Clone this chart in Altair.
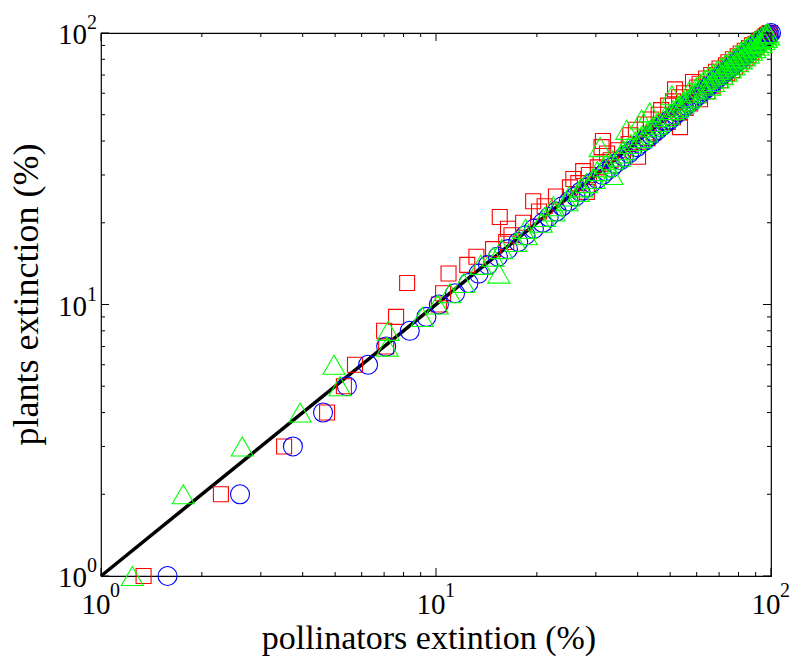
import altair as alt
import pandas as pd

# plants extinction (%) — y values shared by the three series
plants = [1, 2, 3, 4, 5, 6, 7, 8, 9, 10,
          11, 12, 13, 14, 15, 16, 17, 18, 19, 20,
          21, 22, 23, 24, 25, 26, 27, 28, 29, 30,
          31, 32, 33, 34, 35, 36, 37, 38, 39, 40,
          41, 42, 43, 44, 45, 46, 47, 48, 49, 50,
          51, 52, 53, 54, 55, 56, 57, 58, 59, 60,
          61, 62, 63, 64, 65, 66, 67, 68, 69, 70,
          71, 72, 73, 74, 75, 76, 77, 78, 79, 80,
          81, 82, 83, 84, 85, 86, 87, 88, 89, 90,
          91, 92, 93, 94, 95, 96, 97, 98, 99, 100]

# pollinators extinction (%) for each series
squares_x = [1.34, 2.28, 3.52, 4.73, 5.31, 5.73, 7.1, 7.0, 7.6, 10.2,
             10.5, 8.2, 10.9, 12.4, 13.2, 14.8, 16.2, 16.8, 16.4, 18.2,
             15.5, 20.3, 21.1, 19.5, 22.8, 28.2, 25.1, 26.6, 25.7, 28.6,
             27.5, 30.4, 31.0, 33.2, 40.1, 32.4, 35.0, 31.2, 37.6, 31.5,
             42.8, 38.0, 44.6, 39.5, 53.5, 42.0, 49.2, 43.8, 51.0, 46.2,
             53.4, 47.0, 55.6, 49.3, 57.4, 51.0, 61.4, 53.2, 60.8, 55.0,
             64.5, 51.7, 60.2, 67.0, 61.2, 58.5, 70.5, 64.0, 72.8, 66.3,
             74.0, 68.5, 76.5, 70.2, 78.0, 73.4, 80.5, 74.6, 82.0, 77.0,
             84.0, 79.5, 85.6, 81.2, 87.4, 83.5, 88.6, 86.0, 90.5, 87.8,
             90.1, 91.3, 92.0, 93.2, 94.1, 95.3, 96.2, 97.1, 98.3, 99.2]

circles_x = [1.58, 2.6, 3.74, 4.6, 5.42, 6.27, 7.1, 8.35, 9.36, 10.2,
             11.4, 12.5, 13.4, 14.3, 15.3, 16.4, 17.6, 18.5, 19.6, 20.8,
             21.7, 22.9, 23.8, 24.9, 26.1, 27.0, 28.2, 29.1, 30.3, 31.4,
             32.2, 33.5, 34.3, 35.6, 36.4, 37.7, 38.5, 39.8, 40.6, 41.9,
             42.7, 43.9, 44.8, 45.9, 46.8, 47.9, 48.8, 49.9, 50.9, 51.8,
             52.9, 53.8, 54.9, 55.8, 56.9, 57.7, 58.8, 59.7, 60.8, 61.6,
             62.7, 63.6, 64.6, 65.5, 66.6, 67.4, 68.5, 69.3, 70.4, 71.2,
             72.3, 73.1, 74.1, 75.0, 76.0, 76.9, 77.9, 78.8, 79.8, 80.7,
             81.7, 82.6, 83.6, 84.5, 85.5, 86.4, 87.4, 88.3, 89.3, 90.2,
             91.2, 92.1, 93.1, 94.0, 95.1, 96.0, 97.0, 98.0, 99.0, 100.0]

triangles_x = [1.24, 1.76, 2.64, 3.93, 5.17, 4.96, 7.15, 7.2, 9.1, 10.1,
               11.0, 12.1, 15.4, 13.6, 14.8, 15.7, 17.3, 18.6, 18.5, 20.6,
               21.1, 22.5, 22.4, 24.6, 24.9, 26.6, 27.2, 28.1, 29.6, 33.5,
               30.3, 31.7, 32.2, 33.7, 35.3, 35.7, 36.3, 30.9, 38.1, 39.4,
               40.8, 41.2, 42.6, 37.1, 44.2, 45.4, 46.3, 41.1, 48.2, 49.5,
               43.5, 51.1, 52.4, 53.2, 54.6, 55.1, 56.4, 57.3, 50.6, 59.3,
               57.0, 63.5, 59.8, 65.6, 61.5, 67.4, 63.2, 69.5, 65.1, 71.6,
               67.2, 73.5, 69.3, 75.6, 71.1, 77.5, 73.3, 79.4, 75.2, 81.5,
               77.3, 83.4, 79.2, 85.5, 81.3, 87.4, 83.2, 89.5, 85.3, 91.4,
               87.2, 93.3, 89.5, 95.2, 91.4, 96.8, 94.0, 98.5, 96.2, 97.6]

line_x = [1, 100]
line_y = [1, 100]

major_ticks = [1, 10, 100]
minor_ticks = [2, 3, 4, 5, 6, 7, 8, 9, 20, 30, 40, 50, 60, 70, 80, 90]
label_base = ["10", "10", "10"]
label_exp = ["0", "1", "2"]

W, H = 670, 543
FONT = "Liberation Serif"

xs = alt.Scale(type="log", domain=[1, 100], nice=False)
ys = alt.Scale(type="log", domain=[1, 100], nice=False)


def series(xvals, color, shape, size):
    df = pd.DataFrame({"x": xvals, "y": plants})
    return alt.Chart(df).mark_point(
        shape=shape, filled=False, color=color, size=size, strokeWidth=1.1, opacity=1
    ).encode(
        x=alt.X("x:Q", scale=xs, axis=None),
        y=alt.Y("y:Q", scale=ys, axis=None),
    )


line = alt.Chart(pd.DataFrame({"x": line_x, "y": line_y})).mark_line(
    color="black", strokeWidth=3.5
).encode(x=alt.X("x:Q", scale=xs, axis=None), y=alt.Y("y:Q", scale=ys, axis=None))

red = series(squares_x, "#ff0000", "square", 225)
blue = series(circles_x, "#0000ff", "circle", 361)
green = series(triangles_x, "#00ff00", "triangle-up", 484)


def tick_layers(vals, length):
    df = pd.DataFrame({"v": vals})
    base = alt.Chart(df).mark_rule(color="black", strokeWidth=1)
    bottom = base.encode(x=alt.X("v:Q", scale=xs, axis=None), y=alt.value(H), y2=alt.value(H - length))
    top = base.encode(x=alt.X("v:Q", scale=xs, axis=None), y=alt.value(0), y2=alt.value(length))
    left = base.encode(y=alt.Y("v:Q", scale=ys, axis=None), x=alt.value(0), x2=alt.value(length))
    right = base.encode(y=alt.Y("v:Q", scale=ys, axis=None), x=alt.value(W), x2=alt.value(W - length))
    return [bottom, top, left, right]


ticks = tick_layers(major_ticks, 8) + tick_layers(minor_ticks, 4)

lab_df = pd.DataFrame({"v": major_ticks, "b": label_base, "e": label_exp})
xlab_base = alt.Chart(lab_df).mark_text(
    font=FONT, fontSize=29, align="center", baseline="alphabetic", dx=-5, color="black"
).encode(x=alt.X("v:Q", scale=xs, axis=None), y=alt.value(H + 38), text="b:N")
xlab_exp = alt.Chart(lab_df).mark_text(
    font=FONT, fontSize=20, align="left", baseline="alphabetic", dx=9, color="black"
).encode(x=alt.X("v:Q", scale=xs, axis=None), y=alt.value(H + 21), text="e:N")
ylab_base = alt.Chart(lab_df).mark_text(
    font=FONT, fontSize=29, align="right", baseline="alphabetic", dy=11, color="black"
).encode(y=alt.Y("v:Q", scale=ys, axis=None), x=alt.value(-14), text="b:N")
ylab_exp = alt.Chart(lab_df).mark_text(
    font=FONT, fontSize=20, align="left", baseline="alphabetic", dx=0, dy=-4, color="black"
).encode(y=alt.Y("v:Q", scale=ys, axis=None), x=alt.value(-14), text="e:N")

titles = pd.DataFrame({"t": ["pollinators extintion (%)"]})
xtitle = alt.Chart(titles).mark_text(
    font=FONT, fontSize=34, align="center", baseline="alphabetic", color="black"
).encode(x=alt.value(W / 2 - 7), y=alt.value(H + 73), text="t:N")
ytitles = pd.DataFrame({"t": ["plants extinction (%)"]})
ytitle = alt.Chart(ytitles).mark_text(
    font=FONT, fontSize=36, align="center", baseline="alphabetic", angle=270, color="black"
).encode(x=alt.value(-63), y=alt.value(H / 2 - 10), text="t:N")

chart = alt.layer(
    line, red, blue, green, *ticks, xlab_base, xlab_exp, ylab_base, ylab_exp, xtitle, ytitle
).properties(
    width=W, height=H,
    autosize=alt.AutoSizeParams(type="none"),
    padding={"left": 101, "top": 33, "right": 22, "bottom": 82},
    background="white",
).configure_view(stroke="black", strokeWidth=1.2)

chart.save("out.html", embed_options={"renderer": "svg", "actions": False})
